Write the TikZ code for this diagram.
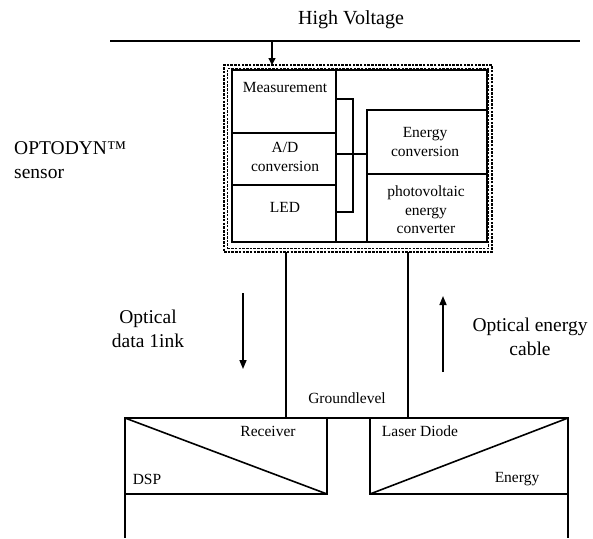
\documentclass[tikz,border=0pt]{standalone}
\usepackage{fontspec}
\setmainfont{Liberation Serif}
\usetikzlibrary{arrows.meta}
\begin{document}
\begin{tikzpicture}[x=1pt,y=-1pt,
  box/.style={draw, line width=1.6pt, inner sep=0pt, outer sep=0pt},
  ln/.style={line width=1.6pt},
  cable/.style={line width=2.2pt},
  dashframe/.style={draw, line width=1.2pt, dash pattern=on 2.5pt off 1.2pt, inner sep=0pt, outer sep=0pt},
  small/.style={font=\fontsize{15.5}{18.5}\selectfont, align=center, inner sep=0pt},
  big/.style={font=\fontsize{19.5}{23.5}\selectfont, align=center, inner sep=0pt},
  flow/.style={line width=1.6pt, -{Triangle[length=9pt,width=7pt]}}]
\useasboundingbox[fill=white] (0,0) rectangle (593,538);

% high voltage
\node[big, font=\fontsize{20}{24}\selectfont] (hvt) at (351,20) {High Voltage};
\coordinate (hvL) at (110,41);
\coordinate (hvR) at (580,41);
\draw[line width=2.6pt] (hvL) -- (hvR);
\coordinate (hvtap) at (272,41);

% sensor
\node[dashframe, minimum width=268pt, minimum height=187pt] (frame) at (358,158.5) {};
\node[dashframe, minimum width=261pt, minimum height=180pt] (frame2) at (358,158.5) {};
\node[box, minimum width=255pt, minimum height=172pt] (inner) at (359.5,156) {};
\node[box, minimum width=104pt, minimum height=63pt] (meas) at (284,101.5) {};
\node[box, minimum width=104pt, minimum height=52pt] (ad) at (284,159) {};
\node[box, minimum width=104pt, minimum height=57pt] (led) at (284,213.5) {};
\node[box, minimum width=120pt, minimum height=64pt] (econv) at (427,142) {};
\node[box, minimum width=120pt, minimum height=68pt] (pv) at (427,208) {};

\node[small] (tmeas) at (285,87) {Measurement};
\node[small] (tad) at (285,157) {A/D\\conversion};
\node[small] (tled) at (285,207) {LED};
\node[small] (tec) at (425,142) {Energy\\conversion};
\node[small] (tpv) at (426,210) {photovoltaic\\energy\\converter};

% bus bracket
\coordinate (bt) at (353,99);
\coordinate (bb) at (353,212);
\draw[ln] (meas.east |- bt) -- (bt) -- (bb) -- (led.east |- bb);
\coordinate (bm) at (336,154);
\draw[ln] (bm) -- (econv.west |- bm);

% tap arrow
\draw[line width=1.5pt, -{Triangle[length=7pt,width=7pt]}] (hvtap) -- (frame.north -| hvtap);

% ground level blocks
\node[box, minimum width=202pt, minimum height=76pt] (rcv) at (226,456) {};
\node[box, minimum width=198pt, minimum height=76pt] (ld) at (469,456) {};
\coordinate (baseL) at (125,538);
\coordinate (baseR) at (568,538);
\draw[ln] (rcv.north west) -- (ld.north east);
\draw[ln] (rcv.north west) -- (baseL);
\draw[ln] (ld.north east) -- (baseR);
\draw[ln] (rcv.north west) -- (rcv.south east);
\draw[ln] (ld.north east) -- (ld.south west);

% cables
\coordinate (c1) at (286,252);
\coordinate (c2) at (408,252);
\draw[cable] (c1) -- (rcv.north -| c1);
\draw[cable] (c2) -- (ld.north -| c2);

% labels
\node[small] (tgl) at (347,398) {Groundlevel};
\node[small] (trcv) at (268,431) {Receiver};
\node[small] (tld) at (420,431) {Laser Diode};
\node[small] (tdsp) at (147,479) {DSP};
\node[small] (ten) at (517,479) {Energy};

\node[big, anchor=west, align=left] (topt) at (14,160) {OPTODYN™\\sensor};
\node[big] (todl) at (148,329) {Optical\\data 1ink};
\node[big] (toec) at (530,337) {Optical energy\\cable};

% flow arrows
\coordinate (d1) at (243,293);
\coordinate (d2) at (243,369);
\coordinate (u1) at (443,372);
\coordinate (u2) at (443,296);
\draw[flow] (d1) -- (d2);
\draw[flow] (u1) -- (u2);
\end{tikzpicture}
\end{document}
